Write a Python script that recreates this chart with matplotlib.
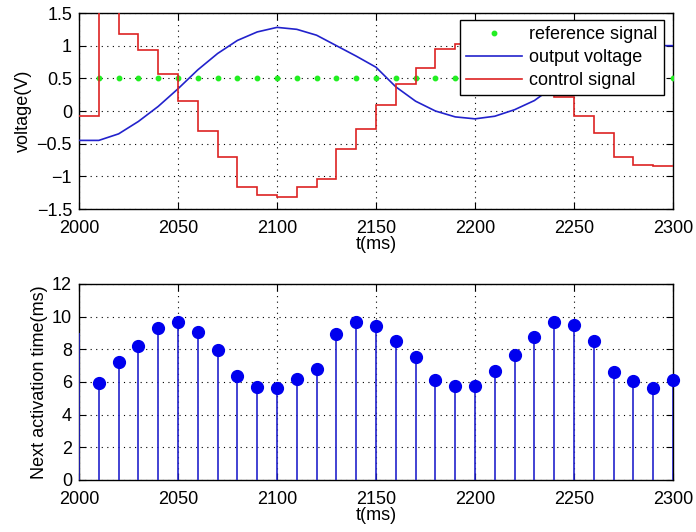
import numpy as np
import matplotlib
matplotlib.use("Agg")
import matplotlib.pyplot as plt

plt.rcParams['font.family'] = ['Liberation Sans', 'DejaVu Sans']
plt.rcParams['font.size'] = 13

# ---------------- data ----------------
t_ref = [2010, 2020, 2030, 2040, 2050, 2060, 2070, 2080, 2090, 2100,
         2110, 2120, 2130, 2140, 2150, 2160, 2170, 2180, 2190, 2200,
         2210, 2220, 2230, 2240, 2250, 2260, 2270, 2280, 2290, 2300]
ref_signal = [0.5] * len(t_ref)

t_out = [2000] + t_ref
output_voltage = [-0.45, -0.45, -0.35, -0.16, 0.07, 0.34, 0.63, 0.88, 1.08, 1.21,
                  1.28, 1.25, 1.16, 1.00, 0.84, 0.67, 0.37, 0.15, 0.00, -0.09,
                  -0.12, -0.08, 0.02, 0.16, 0.38, 0.62, 0.80, 0.92, 0.98, 1.00,
                  1.00]

control_edges = t_out
control_signal = [-0.08, 2.50, 1.18, 0.93, 0.56, 0.15, -0.30, -0.70, -1.16, -1.28,
                  -1.32, -1.16, -1.04, -0.58, -0.28, 0.09, 0.42, 0.66, 0.95, 1.02,
                  1.00, 0.90, 0.75, 0.50, 0.22, -0.07, -0.34, -0.71, -0.82, -0.84]

t_act = t_out
next_activation = [9.0, 5.96, 7.22, 8.20, 9.31, 9.69, 9.06, 7.94, 6.37, 5.67, 5.63,
                   6.20, 6.82, 8.96, 9.65, 9.45, 8.49, 7.53, 6.10, 5.76, 5.73,
                   6.67, 7.63, 8.73, 9.65, 9.47, 8.51, 6.63, 6.04, 5.63, 6.10]

x_ticks = [2000, 2050, 2100, 2150, 2200, 2250, 2300]
y1_ticks = [-1.5, -1, -0.5, 0, 0.5, 1, 1.5]
y1_labels = ['\u22121.5', '\u22121', '\u22120.5', '0', '0.5', '1', '1.5']
y2_ticks = [0, 2, 4, 6, 8, 10, 12]

# ---------------- figure ----------------
fig = plt.figure(figsize=(6.96, 5.32), dpi=100)
W, H = 696, 532
ax1 = fig.add_axes([79 / W, 1 - 209 / H, 594 / W, 196 / H])
ax2 = fig.add_axes([79 / W, 1 - 480 / H, 594 / W, 196 / H])


def style(ax):
    ax.grid(True, linestyle=(0, (1, 4)), color='black', linewidth=0.8)
    ax.tick_params(direction='in', top=True, right=True, length=5, width=0.8,
                   labelsize=13)
    ax.tick_params(axis='x', pad=8)
    ax.tick_params(axis='y', pad=5)
    for s in ax.spines.values():
        s.set_linewidth(1.0)
    ax.set_xlim(2000, 2300)
    ax.set_xticks(x_ticks)


# top panel
ax1.plot(t_ref, ref_signal, linestyle='none', marker='o', markersize=3.2,
         color='#22ee22', label='reference signal', zorder=3)
ax1.plot(t_out, output_voltage, color='#2222cc', linewidth=1.2,
         label='output voltage', zorder=3)
ax1.stairs(control_signal, control_edges, color='#dd2222', linewidth=1.2,
           baseline=None, label='control signal', zorder=3)
ax1.set_ylim(-1.5, 1.5)
style(ax1)
ax1.set_yticks(y1_ticks)
ax1.set_yticklabels(y1_labels)
ax1.set_xlabel('t(ms)', labelpad=-1)
ax1.set_ylabel('voltage(V)', labelpad=3)
leg = ax1.legend(loc='upper right', bbox_to_anchor=(0.985, 0.965),
                 borderaxespad=0, fancybox=False, framealpha=1,
                 edgecolor='black', fontsize=13, handlelength=3.1,
                 handletextpad=0.4, labelspacing=0.33, borderpad=0.35,
                 markerscale=1.0)
leg.get_frame().set_linewidth(1.0)
leg.set_zorder(5)

# bottom panel
ax2.vlines(t_act, 0, next_activation, color='#2222cc', linewidth=1.2, zorder=3)
ax2.plot(t_act[1:], next_activation[1:], linestyle='none', marker='o',
         markersize=8.5, color='#0000ee', zorder=4, clip_on=False)
ax2.set_ylim(0, 12)
style(ax2)
ax2.set_yticks(y2_ticks)
ax2.set_xlabel('t(ms)', labelpad=-1)
ax2.set_ylabel('Next activation time(ms)', labelpad=3)

fig.savefig('out.png', dpi=100)
